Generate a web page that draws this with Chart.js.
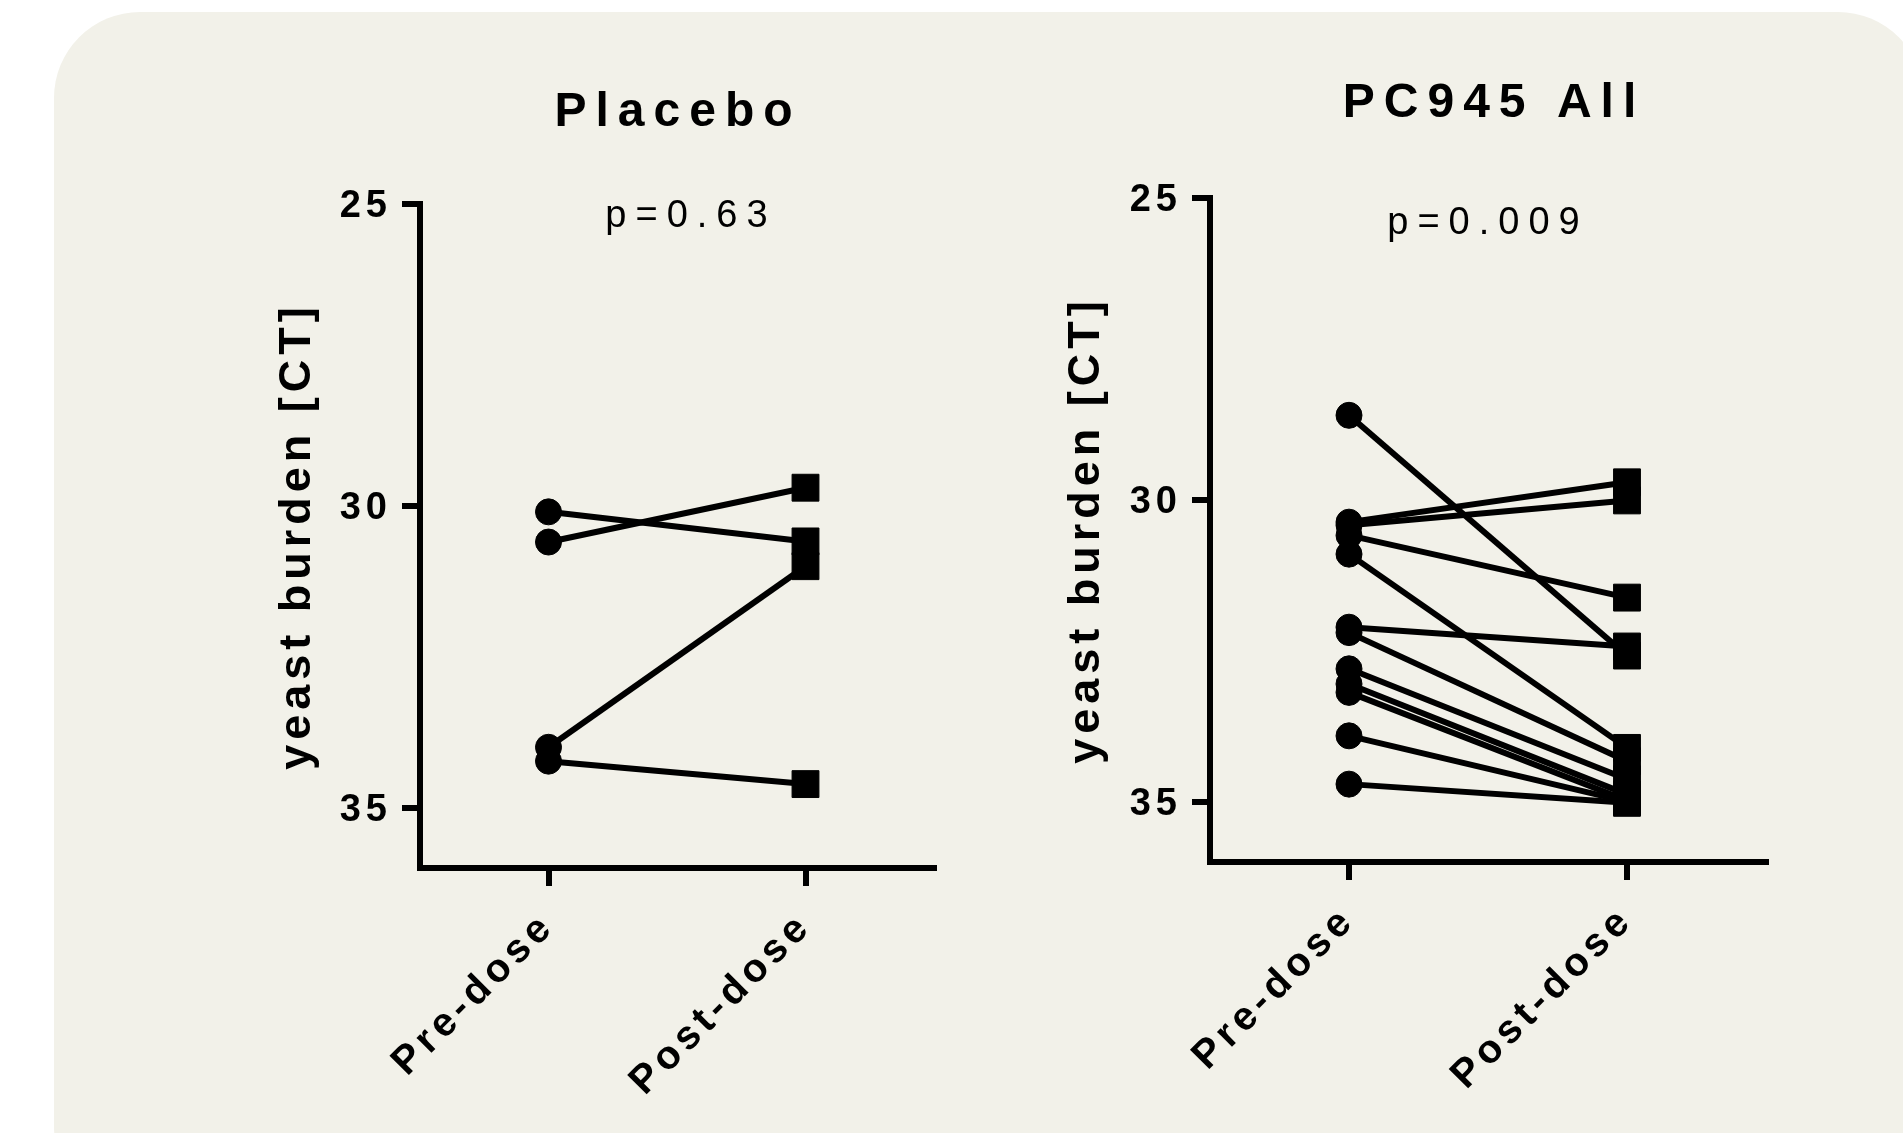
<!DOCTYPE html>
<html>
<head>
<meta charset="utf-8">
<title>yeast burden</title>
<script src="https://cdn.jsdelivr.net/npm/chart.js@4.4.1/dist/chart.umd.min.js"></script>
<style>
  html, body { margin: 0; padding: 0; background: #fff; overflow: hidden; }
  body { width: 1903px; height: 1133px; position: relative; }
  .panel { position: absolute; left: 54px; top: 12px; width: 1870px; height: 1200px; border-radius: 86px; background: #f2f1e9; }
  canvas { position: absolute; top: 0; }
  #placebo { left: 200px; }
  #pc945 { left: 1000px; }
</style>
</head>
<body>
<div class="panel"></div>
<canvas id="placebo" width="800" height="1133"></canvas>
<canvas id="pc945" width="903" height="1133"></canvas>
<script>
const categories = ['Pre-dose', 'Post-dose'];
const yTicks = [25, 30, 35];

const placeboPre  = [30.10, 30.60, 34.00, 34.23];
const placeboPost = [30.59, 29.70, 31.00, 34.61];

const pc945Pre  = [28.60, 30.37, 30.42, 30.59, 30.90, 32.11, 32.20, 32.80, 33.05, 33.19, 33.91, 34.71];
const pc945Post = [32.58, 29.71, 30.01, 31.62, 34.11, 32.43, 34.33, 34.63, 34.88, 34.98, 35.00, 35.02];

const FONT = "'Liberation Sans', Arial, sans-serif";
Chart.defaults.font.family = FONT;
Chart.defaults.color = '#000';

// prism-style spaced lettering for everything the scales draw
const spacing = {
  id: 'spacing',
  beforeUpdate(chart) { chart.ctx.letterSpacing = '5px' },
  beforeDraw(chart) { chart.ctx.letterSpacing = '5px' }
}

const heading = {
  id: 'heading',
  afterDraw(chart, args, opts) {
    const { ctx, chartArea } = chart
    const mid = (chartArea.left + chartArea.right) / 2
    ctx.save()
    ctx.fillStyle = '#000'
    ctx.textAlign = 'center'
    ctx.textBaseline = 'alphabetic'
    ctx.font = 'bold 48px ' + FONT
    ctx.letterSpacing = '9px'
    ctx.fillText(opts.title, mid + opts.titleDx, chartArea.top - opts.titleRise)
    ctx.font = '38px ' + FONT
    ctx.letterSpacing = '9px'
    ctx.fillText(opts.note, mid + opts.noteDx, chartArea.top + opts.noteDrop)
    ctx.restore()
  }
}

function pairedChart(id, pre, post, padding, yWidth, titlePad, heads) {
  const datasets = pre.map((v, i) => ({
    data: [v, post[i]],
    borderColor: '#000',
    backgroundColor: '#000',
    borderWidth: 6,
    pointStyle: ['circle', 'rect'],
    pointRadius: [13, 19],
    pointHoverRadius: [13, 19],
    pointBorderWidth: 1,
    tension: 0
  }))

  return new Chart(document.getElementById(id), {
    type: 'line',
    data: { labels: categories, datasets },
    plugins: [spacing, heading],
    options: {
      responsive: false,
      animation: false,
      events: [],
      layout: { padding },
      plugins: {
        legend: { display: false },
        tooltip: { enabled: false },
        heading: heads
      },
      scales: {
        x: {
          type: 'category',
          offset: true,
          grid: { drawOnChartArea: false, offset: false, color: '#000', lineWidth: 6, tickLength: 18, tickWidth: 6 },
          border: { color: '#000', width: 6 },
          ticks: { autoSkip: false, minRotation: 45, maxRotation: 45, padding: 17, font: { size: 40, weight: 'bold' } },
          afterFit: s => { s.height = 250 }
        },
        y: {
          min: 25,
          max: 36,
          reverse: true,
          afterBuildTicks: s => { s.ticks = yTicks.map(v => ({ value: v })) },
          grid: { drawOnChartArea: false, color: '#000', lineWidth: 6, tickLength: 18, tickWidth: 6 },
          border: { color: '#000', width: 6 },
          ticks: { padding: 10, labelOffset: 3, font: { size: 38, weight: 'bold' } },
          title: {
            display: true,
            text: 'yeast burden [CT]',
            font: { size: 45, weight: 'bold' },
            padding: { top: titlePad, bottom: 0 }
          },
          afterFit: s => { s.width = yWidth }
        }
      }
    }
  })
}

pairedChart('placebo', placeboPre, placeboPost,
  { left: 0, top: 204, right: 66, bottom: 15 }, 220, 71,
  { title: 'Placebo', titleDx: 1, titleRise: 78, note: 'p=0.63', noteDx: 14, noteDrop: 23 })

pairedChart('pc945', pc945Pre, pc945Post,
  { left: 0, top: 198, right: 137, bottom: 21 }, 210, 60,
  { title: 'PC945 All', titleDx: 6, titleRise: 81, note: 'p=0.009', noteDx: 0, noteDrop: 36 })
</script>
</body>
</html>
